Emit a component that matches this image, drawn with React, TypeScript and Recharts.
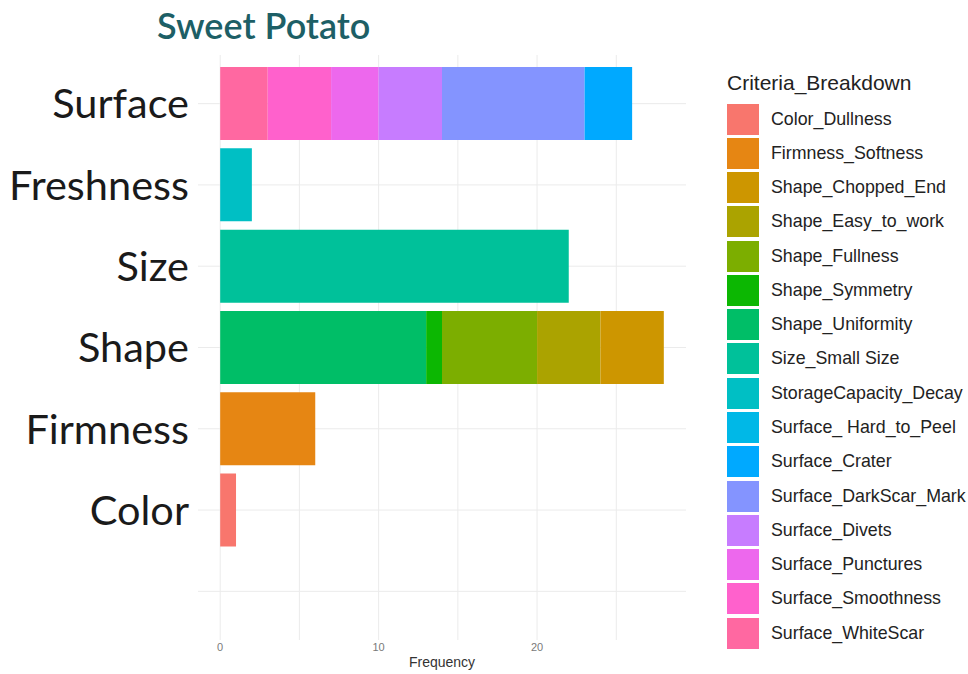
import React from 'react';
import { BarChart, Bar, XAxis, YAxis, CartesianGrid, Legend, Label } from 'recharts';

const categories = ['Surface', 'Freshness', 'Size', 'Shape', 'Firmness', 'Color', ''];

const criteria = [
  'Color_Dullness',
  'Firmness_Softness',
  'Shape_Chopped_End',
  'Shape_Easy_to_work',
  'Shape_Fullness',
  'Shape_Symmetry',
  'Shape_Uniformity',
  'Size_Small Size',
  'StorageCapacity_Decay',
  'Surface_ Hard_to_Peel',
  'Surface_Crater',
  'Surface_DarkScar_Mark',
  'Surface_Divets',
  'Surface_Punctures',
  'Surface_Smoothness',
  'Surface_WhiteScar',
];

const criteriaCategory = [
  'Color', 'Firmness', 'Shape', 'Shape', 'Shape', 'Shape', 'Shape', 'Size',
  'Freshness', 'Surface', 'Surface', 'Surface', 'Surface', 'Surface', 'Surface', 'Surface',
];

const frequency = [1, 6, 4, 4, 6, 1, 13, 22, 2, 0, 3, 9, 4, 3, 4, 3];

const palette = [
  '#F8766D', '#E68613', '#CD9600', '#ABA300', '#7CAE00', '#0CB702', '#00BE67', '#00C19A',
  '#00BFC4', '#00B8E7', '#00A9FF', '#8494FF', '#C77CFF', '#ED68ED', '#FF61CC', '#FF68A1',
];

const xTicks = [0, 5, 10, 15, 20, 25];
const xDomain = [-1.4, 29.4];

const tableData = categories.map((cat) => {
  const row: Record<string, any> = { category: cat };
  criteria.forEach((_, i) => {
    row[`s${i}`] = criteriaCategory[i] === cat ? frequency[i] : 0;
  });
  return row;
});

// ggplot stacks reversed: last level closest to zero
const stackOrder = criteria.map((_, i) => i).reverse();

const LegendContent = () => (
  <div style={{ fontFamily: '"Liberation Sans", Arial, sans-serif', color: '#222', whiteSpace: 'nowrap' }}>
    <div style={{ fontSize: 21, lineHeight: '24px', height: 24, marginBottom: 7 }}>Criteria_Breakdown</div>
    {criteria.map((name, i) => (
      <div key={name} style={{ display: 'flex', alignItems: 'center', height: 34.27 }}>
        <div style={{ width: 32, height: 31, background: palette[i] }} />
        <span style={{ marginLeft: 12, fontSize: 17.8 }}>{name}</span>
      </div>
    ))}
  </div>
);

export default function App() {
  return (
    <div style={{ position: 'absolute', left: 0, top: 0, width: 968, height: 674, overflow: 'hidden', background: '#fff' }}>
      <div
        style={{
          position: 'absolute',
          left: 157,
          top: 7,
          fontFamily: 'Lato, sans-serif',
          fontWeight: 600,
          fontSize: 36,
          lineHeight: '36px',
          color: '#1d5f66',
          whiteSpace: 'nowrap',
          zIndex: 2,
        }}
      >
        Sweet Potato
      </div>
      <BarChart
        width={968}
        height={674}
        data={tableData}
        layout="vertical"
        margin={{ top: 55, right: 282, bottom: 0, left: 0 }}
        barCategoryGap="5%"
      >
        <CartesianGrid stroke="#ebebeb" strokeWidth={1} syncWithTicks />
        <XAxis
          type="number"
          domain={xDomain}
          ticks={xTicks}
          allowDataOverflow
          tickFormatter={(v: number) => (v % 10 === 0 ? String(v) : '')}
          axisLine={false}
          tickLine={false}
          tickSize={0}
          tickMargin={3}
          height={34}
          tick={{ fontSize: 11, fill: '#7a7a7a', fontFamily: '"Liberation Sans", Arial, sans-serif' }}
        >
          <Label
            value="Frequency"
            position="insideBottom"
            offset={7}
            style={{ fontSize: 14, fill: '#333', fontFamily: '"Liberation Sans", Arial, sans-serif' }}
          />
        </XAxis>
        <YAxis
          type="category"
          dataKey="category"
          width={198}
          axisLine={false}
          tickLine={false}
          tickSize={0}
          tickMargin={9}
          padding={{ top: 8, bottom: 8 }}
          interval={0}
          tick={{ fontSize: 41.5, fill: '#1a1a1a', fontFamily: 'Lato, sans-serif', fontWeight: 400 }}
        />
        <Legend
          layout="vertical"
          align="center"
          verticalAlign="middle"
          content={LegendContent}
          wrapperStyle={{ left: 727, top: 71, width: 260 }}
        />
        {stackOrder.map((i) => (
          <Bar
            key={criteria[i]}
            dataKey={`s${i}`}
            name={criteria[i]}
            stackId="a"
            fill={palette[i]}
            isAnimationActive={false}
          />
        ))}
      </BarChart>
    </div>
  );
}
